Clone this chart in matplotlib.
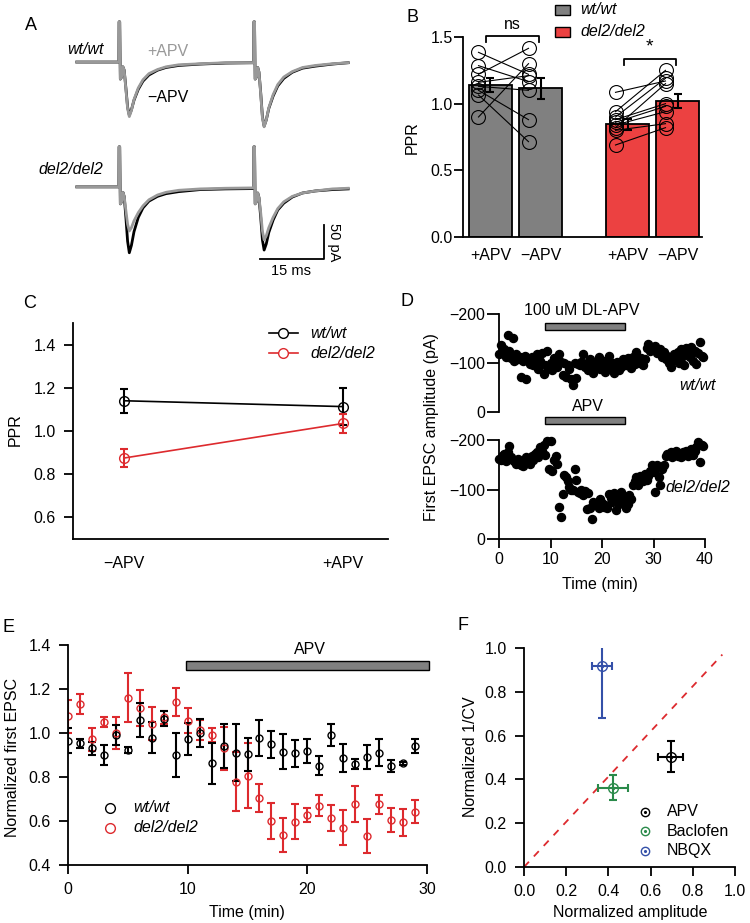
import numpy as np
import matplotlib
matplotlib.use('Agg')
import matplotlib.pyplot as plt
from matplotlib.patches import Rectangle

plt.rcParams['font.family'] = ['Liberation Sans', 'DejaVu Sans']
plt.rcParams['font.size'] = 11.5
plt.rcParams['axes.linewidth'] = 1.3
plt.rcParams['xtick.major.width'] = 1.3
plt.rcParams['ytick.major.width'] = 1.3
plt.rcParams['xtick.major.size'] = 6.5
plt.rcParams['ytick.major.size'] = 6.5
plt.rcParams['xtick.major.pad'] = 6
plt.rcParams['ytick.major.pad'] = 6

RED = '#dd2a2e'
BAR_RED = '#ec4141'
GRAY = '#808080'
LGRAY = '#999999'

# ---- A: example traces (ms, pA) ----
trace_t = [-9.9, -0.05, 0, 0.15, 0.3, 0.6, 0.9, 1.2, 1.6, 2.0, 2.4, 2.9, 3.5, 4.5, 5.6, 7, 9, 11, 14, 19, 25,
           31.55, 31.6, 31.75, 31.9, 32.2, 32.5, 32.8, 33.2, 33.6, 34.0, 34.5, 35.1, 36.1, 37.2, 38.6, 40.6,
           43, 46, 50, 53.7]
wt_minus = [0, 0, 59, 59, -25, -22, -7, -12, -38, -66, -78, -70, -56, -40, -28, -19, -12, -8, -5, -3, -1.5,
            -1, 59, 59, -25, -22, -8, -15, -45, -80, -94, -85, -68, -50, -35, -24, -15, -9, -6, -3, -1]
wt_plus = [0, 0, 59, 59, -25, -22, -7, -12, -40, -68, -80, -71, -55, -38, -26, -17, -11, -7, -4, -2.5, -1,
           -1, 59, 59, -25, -22, -8, -15, -47, -82, -95, -85, -67, -48, -33, -22, -14, -8, -5, -2.5, -1]
del_minus = [0, 0, 59, 59, -25, -22, -8, -14, -45, -80, -97, -86, -66, -45, -31, -21, -14, -10, -7, -4, -3,
             -2.5, 59, 59, -25, -22, -9, -16, -45, -78, -93, -84, -67, -49, -34, -24, -15, -9, -6, -4, -3]
del_plus = [0, 0, 59, 59, -25, -22, -8, -14, -35, -55, -65, -60, -50, -38, -28, -19, -12, -8, -5, -3, -2,
            -1.5, 59, 59, -25, -22, -9, -16, -38, -65, -78, -72, -60, -45, -32, -22, -14, -9, -6, -3, -2]
scale_ms = 15
scale_pA = 50

# ---- B: paired-pulse ratio ----
ppr_labels = ['+APV', '\u2212APV', '+APV', '\u2212APV']
ppr_mean = [1.14, 1.115, 0.845, 1.02]
ppr_sem = [0.05, 0.08, 0.04, 0.05]
wt_cells_plus = [1.385, 1.285, 1.22, 1.16, 1.13, 1.10, 1.065, 0.90]
wt_cells_minus = [1.22, 1.165, 1.415, 1.21, 1.10, 0.88, 0.715, 1.30]
del_cells_plus = [1.085, 0.94, 0.90, 0.88, 0.86, 0.84, 0.82, 0.80, 0.69]
del_cells_minus = [1.17, 1.25, 1.19, 1.00, 0.98, 0.94, 1.15, 0.85, 0.82]

# ---- C: mean PPR ----
c_labels = ['\u2212APV', '+APV']
c_wt = [1.14, 1.113]
c_wt_err = [0.055, 0.085]
c_del = [0.875, 1.035]
c_del_err = [0.04, 0.046]

# ---- D: first EPSC amplitude time course (pA) ----
d_wt = [-118, -136, -120, -128, -112, -157, -125,
        -110, -152, -105, -118, -108, -112,
        -72, -105, -115, -68, -108, -98,
        -112, -95, -102, -118, -88, -105,
        -120, -78, -95, -125, -90, -100,
        -85, -110, -98, -92, -118, -102,
        -75, -100, -72, -95, -88, -68,
        -55, -100, -70, -98, -95, -102,
        -118, -92, -100, -85, -108, -96,
        -80, -102, -90, -112, -88, -98,
        -105, -82, -95, -115, -90, -100,
        -80, -98, -102, -85, -92, -108,
        -100, -95, -110, -104, -90, -112,
        -98, -122, -104, -100, -110, -96,
        -108, -130, -138, -125, -132, -128,
        -135, -120, -126, -128, -112, -122,
        -108, -115, -100, -92, -105, -118,
        -110, -122, -100, -128, -115, -95,
        -130, -118, -112, -132, -105, -125,
        -98, -120, -142, -115, -112]
d_del = [-162, -160, -168, -172, -158, -175, -188,
         -165, -160, -158, -152, -162, -155,
         -150, -148, -160, -165, -158, -152,
         -168, -160, -172, -175, -165, -185,
         -178, -190, -170, -198, -142, -198,
         -138, -160, -168, -152, -65, -45,
         -90, -130, -125, -118, -105, -100,
         -98, -142, -120, -95, -92, -100,
         -88, -96, -60, -92, -62, -40,
         -75, -68, -70, -62, -80, -72,
         -65, -68, -62, -90, -82, -75,
         -92, -58, -80, -70, -95, -75,
         -85, -62, -70, -88, -80, -110,
         -118, -125, -110, -128, -122, -118,
         -132, -120, -128, -138, -150, -135,
         -95, -150, -125, -110, -142, -150,
         -168, -172, -170, -175, -165, -172,
         -178, -168, -172, -165, -175, -170,
         -178, -168, -175, -182, -170, -178,
         -185, -195, -155, -190, -188]
d_time = np.arange(len(d_wt)) / 3.0
d_apv = [9, 24.5]

# ---- E: normalized first EPSC ----
e_time = list(range(30))
e_wt = [0.965, 0.953, 0.93, 0.90, 0.991, 0.923, 1.059, 0.979, 1.064, 0.90,
        0.973, 0.999, 0.862, 0.942, 0.911, 0.903, 0.976, 0.948, 0.915, 0.908,
        0.918, 0.852, 0.991, 0.885, 0.858, 0.892, 0.911, 0.852, 0.862, 0.942]
e_wt_err = [0.056, 0.019, 0.029, 0.045, 0.046, 0.015, 0.076, 0.070, 0.034, 0.102,
            0.072, 0.064, 0.093, 0.100, 0.131, 0.076, 0.081, 0.063, 0.080, 0.061,
            0.055, 0.045, 0.048, 0.063, 0.023, 0.055, 0.060, 0.027, 0.008, 0.032]
e_del = [1.077, 1.132, 0.971, 1.049, 0.999, 1.161, 1.112, 1.041, 1.071, 1.142,
         1.056, 1.014, 0.991, 0.930, 0.779, 0.806, 0.706, 0.600, 0.536, 0.597,
         0.627, 0.670, 0.615, 0.570, 0.676, 0.532, 0.676, 0.605, 0.594, 0.642]
e_del_err = [0.075, 0.044, 0.051, 0.023, 0.073, 0.112, 0.082, 0.075, 0.031, 0.063,
             0.057, 0.047, 0.030, 0.097, 0.134, 0.148, 0.063, 0.080, 0.078, 0.080,
             0.033, 0.048, 0.059, 0.078, 0.081, 0.078, 0.044, 0.055, 0.060, 0.052]
e_apv = [9.86, 30.2]

# ---- F: 1/CV analysis ----
f_names = ['APV', 'Baclofen', 'NBQX']
f_amp = [0.696, 0.422, 0.37]
f_amp_err = [0.059, 0.071, 0.047]
f_cv = [0.504, 0.362, 0.916]
f_cv_lo = [0.072, 0.056, 0.237]
f_cv_hi = [0.072, 0.056, 0.10]
f_colors = ['black', '#2a8a4a', '#3450a8']
f_diag_x = [0, 0.94]
f_diag_y = [0, 0.97]

W, H = 750, 923


def fx(px):
    return px / W


def fy(py):
    return 1 - py / H


def box(l, t, r, b):
    return [fx(l), fy(b), (r - l) / W, (b - t) / H]


def clean(ax):
    ax.spines['top'].set_visible(False)
    ax.spines['right'].set_visible(False)


fig = plt.figure(figsize=(7.5, 9.23), dpi=100)

# ===== A =====
axA1 = fig.add_axes(box(70, 15, 355, 135))
axA2 = fig.add_axes(box(70, 140, 355, 265))
axA1.plot(trace_t, wt_minus, color='black', lw=2)
axA1.plot(trace_t, wt_plus, color=LGRAY, lw=2)
axA2.plot(trace_t, del_minus, color='black', lw=2)
axA2.plot(trace_t, del_plus, color=LGRAY, lw=2)
axA1.set_ylim(-107, 69)
axA2.set_ylim(-115, 69)
for a in (axA1, axA2):
    a.set_xlim(-11.5, 55.3)
    a.axis('off')
sb_x, sb_y = 48, -106
axA2.plot([sb_x - scale_ms, sb_x, sb_x], [sb_y, sb_y, sb_y + scale_pA], color='black', lw=1.3)
fig.text(fx(85), fy(50), 'wt/wt', style='italic', ha='center', va='center')
fig.text(fx(168), fy(52), '+APV', color=LGRAY, ha='center', va='center')
fig.text(fx(168), fy(97), '\u2212APV', ha='center', va='center')
fig.text(fx(71), fy(170), 'del2/del2', style='italic', ha='center', va='center')
fig.text(fx(334), fy(242), '50 pA', rotation=-90, ha='center', va='center', fontsize=10.5)
fig.text(fx(291), fy(271), '15 ms', ha='center', va='center', fontsize=10.5)

# ===== B =====
axB = fig.add_axes(box(463, 37, 702, 237))
ppr_pos = [0, 1, 2.74, 3.74]
axB.bar(ppr_pos, ppr_mean, width=0.86, color=[GRAY, GRAY, BAR_RED, BAR_RED],
        edgecolor='black', linewidth=1.3, zorder=1)
off = -0.24
for pa, pb, cells_a, cells_b in [(ppr_pos[0], ppr_pos[1], wt_cells_plus, wt_cells_minus),
                                 (ppr_pos[2], ppr_pos[3], del_cells_plus, del_cells_minus)]:
    for va, vb in zip(cells_a, cells_b):
        axB.plot([pa + off, pb + off], [va, vb], color='black', lw=0.8, zorder=2)
    axB.plot([pa + off] * len(cells_a), cells_a, 'o', ms=10, mfc='none', mec='black', mew=0.8, zorder=3)
    axB.plot([pb + off] * len(cells_b), cells_b, 'o', ms=10, mfc='none', mec='black', mew=0.8, zorder=3)
axB.errorbar(ppr_pos, ppr_mean, yerr=ppr_sem, fmt='none', ecolor='black',
             elinewidth=1.5, capsize=3, capthick=1.5, zorder=4)
axB.set_xlim(-0.55, 4.23)
axB.set_ylim(0, 1.5)
axB.set_yticks([0, 0.5, 1.0, 1.5], ['0.0', '0.5', '1.0', '1.5'])
axB.set_xticks(ppr_pos, ppr_labels)
axB.tick_params(axis='x', length=0, pad=8)
axB.tick_params(axis='y', pad=1)
clean(axB)
for x0, x1, ytop, txt in [(ppr_pos[0] - 0.08, ppr_pos[1] - 0.04, 1.505, 'ns'),
                          (ppr_pos[2] - 0.08, ppr_pos[3] - 0.04, 1.333, '*')]:
    axB.plot([x0, x0, x1, x1], [ytop - 0.045, ytop, ytop, ytop - 0.045], color='black', lw=1.3, clip_on=False)
    axB.text((x0 + x1) / 2, ytop + 0.03, txt, ha='center', va='bottom',
             fontsize=14 if txt == '*' else 11.5)
fig.text(fx(412), fy(138), 'PPR', rotation=90, ha='center', va='center')
fig.add_artist(Rectangle((fx(555), fy(15)), 15 / W, 10 / H, facecolor=GRAY, edgecolor='black',
                         lw=1, transform=fig.transFigure))
fig.add_artist(Rectangle((fx(555), fy(37)), 15 / W, 10 / H, facecolor=BAR_RED, edgecolor='black',
                         lw=1, transform=fig.transFigure))
fig.text(fx(580), fy(10), 'wt/wt', style='italic', va='center')
fig.text(fx(580), fy(32), 'del2/del2', style='italic', va='center')

# ===== C =====
axC = fig.add_axes(box(73, 323, 388, 539))
axC.errorbar([0, 1], c_wt, yerr=c_wt_err, color='black', marker='o', ms=7, mfc='none',
             lw=1.2, elinewidth=1.5, capsize=3, capthick=1.5)
axC.errorbar([0, 1], c_del, yerr=c_del_err, color=RED, marker='o', ms=7, mfc='none',
             lw=1.2, elinewidth=1.5, capsize=3, capthick=1.5)
axC.set_xlim(-0.234, 1.205)
axC.set_ylim(0.5, 1.5)
axC.set_yticks([0.6, 0.8, 1.0, 1.2, 1.4])
axC.set_xticks([0, 1], c_labels)
axC.tick_params(axis='x', length=0, pad=12)
clean(axC)
fig.text(fx(15), fy(430), 'PPR', rotation=90, ha='center', va='center')
for yy, col, txt in [(333, 'black', 'wt/wt'), (353, RED, 'del2/del2')]:
    fig.add_artist(plt.Line2D([fx(269), fx(298)], [fy(yy), fy(yy)], color=col, lw=1.2,
                              transform=fig.transFigure))
    fig.add_artist(plt.Line2D([fx(283)], [fy(yy)], marker='o', ms=7, mfc='white', mec=col,
                              transform=fig.transFigure))
    fig.text(fx(310), fy(yy), txt, style='italic', va='center')

# ===== D =====
axD1 = fig.add_axes(box(499, 314, 705, 412))
axD2 = fig.add_axes(box(499, 440, 705, 539))
axD1.plot(d_time, d_wt, 'o', color='black', ms=5.8, clip_on=False)
axD2.plot(d_time, d_del, 'o', color='black', ms=5.8, clip_on=False)
for a in (axD1, axD2):
    a.set_xlim(0, 40)
    a.set_ylim(0, -200)
    a.set_yticks([-200, -100, 0])
    a.tick_params(axis='y', length=9, pad=1)
    clean(a)
axD1.spines['bottom'].set_visible(False)
axD1.set_xticks([])
axD2.set_xticks([0, 10, 20, 30, 40])
axD2.tick_params(axis='x', pad=3)
axD1.add_patch(Rectangle((d_apv[0], -182), d_apv[1] - d_apv[0], 15, facecolor=GRAY,
                         edgecolor='black', lw=1, clip_on=False))
axD1.text(16.1, -208, '100 uM DL-APV', ha='center', va='center', clip_on=False)
axD2.add_patch(Rectangle((d_apv[0], -247), d_apv[1] - d_apv[0], 15, facecolor=GRAY,
                         edgecolor='black', lw=1, clip_on=False))
axD2.text(17.2, -268, 'APV', ha='center', va='center', clip_on=False)
fig.text(fx(697), fy(385), 'wt/wt', style='italic', ha='center', va='center')
fig.text(fx(698), fy(488), 'del2/del2', style='italic', ha='center', va='center')
fig.text(fx(432), fy(427), 'First EPSC amplitude (pA)', rotation=90, ha='center', va='center')
fig.text(fx(600), fy(585), 'Time (min)', ha='center', va='center')

# ===== E =====
axE = fig.add_axes(box(68, 645, 427, 865))
axE.errorbar(e_time, e_del, yerr=e_del_err, fmt='o', color=RED, ms=5, mfc='none',
             elinewidth=1.5, capsize=3, capthick=1.5)
axE.errorbar(e_time, e_wt, yerr=e_wt_err, fmt='o', color='black', ms=5, mfc='none',
             elinewidth=1.5, capsize=3, capthick=1.5)
axE.add_patch(Rectangle((e_apv[0], 1.286), e_apv[1] - e_apv[0], 0.041, facecolor=GRAY,
                        edgecolor='black', lw=1, clip_on=False))
axE.text(20.2, 1.38, 'APV', ha='center', va='center')
axE.set_xlim(0, 30)
axE.set_ylim(0.4, 1.4)
axE.set_xticks([0, 10, 20, 30])
axE.set_yticks([0.4, 0.6, 0.8, 1.0, 1.2, 1.4])
clean(axE)
for yy, col, txt in [(808, 'black', 'wt/wt'), (828, RED, 'del2/del2')]:
    fig.add_artist(plt.Line2D([fx(110)], [fy(yy)], marker='o', ms=7, mfc='none', mec=col,
                              transform=fig.transFigure))
    fig.text(fx(133), fy(yy), txt, style='italic', va='center')
fig.text(fx(13), fy(757), 'Normalized first EPSC', rotation=90, ha='center', va='center')
fig.text(fx(247), fy(913), 'Time (min)', ha='center', va='center')

# ===== F =====
axF = fig.add_axes(box(524, 648, 735, 867))
axF.plot(f_diag_x, f_diag_y, color=RED, ls=(0, (4, 4)), lw=1.3)
for i in range(len(f_names)):
    axF.errorbar(f_amp[i], f_cv[i], xerr=f_amp_err[i], yerr=[[f_cv_lo[i]], [f_cv_hi[i]]],
                 fmt='o', color=f_colors[i], ms=7, mfc='none', elinewidth=1.5, capsize=3,
                 capthick=1.5)
    axF.plot(f_amp[i], f_cv[i], '.', color=f_colors[i], ms=3)
axF.set_xlim(0, 1)
axF.set_ylim(0, 1)
ticks = [0, 0.2, 0.4, 0.6, 0.8, 1.0]
axF.set_xticks(ticks, ['%.1f' % t for t in ticks])
axF.set_yticks(ticks, ['%.1f' % t for t in ticks])
clean(axF)
for yy, col, txt in zip([812, 831, 851], f_colors, f_names):
    fig.add_artist(plt.Line2D([fx(645)], [fy(yy)], marker='o', ms=6, mfc='none', mec=col,
                              transform=fig.transFigure))
    fig.add_artist(plt.Line2D([fx(645)], [fy(yy)], marker='.', ms=2.5, color=col,
                              transform=fig.transFigure))
    fig.text(fx(667), fy(yy), txt, va='center')
fig.text(fx(470), fy(757), 'Normalized 1/CV', rotation=90, ha='center', va='center')
fig.text(fx(630), fy(913), 'Normalized amplitude', ha='center', va='center')

# panel letters
for txt, px, py in [('A', 31, 25), ('B', 412, 17), ('C', 30, 303), ('D', 407, 302),
                    ('E', 8, 627), ('F', 463, 625)]:
    fig.text(fx(px), fy(py), txt, fontsize=13, ha='center', va='center')

fig.savefig('out.png', dpi=100)
